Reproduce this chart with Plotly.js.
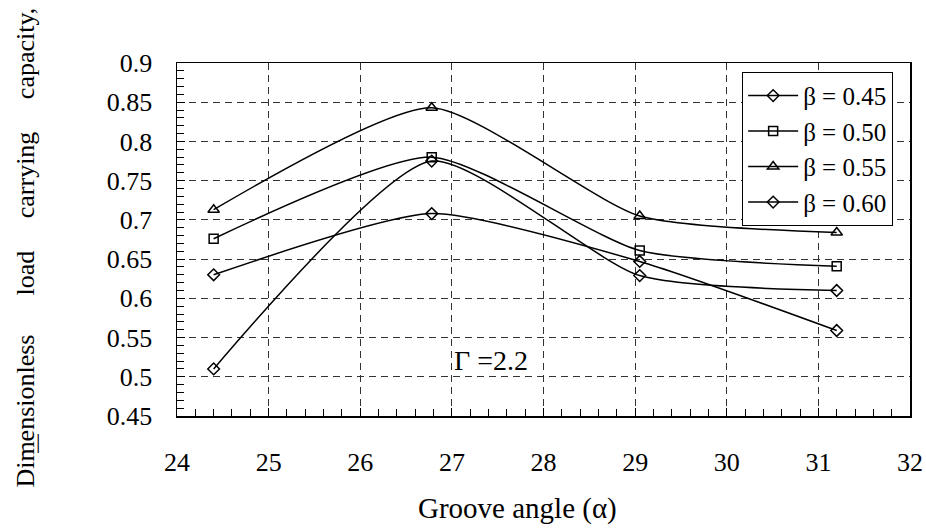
<!DOCTYPE html>
<html>
<head>
<meta charset="utf-8">
<script src="https://cdn.plot.ly/plotly-3.0.1.min.js"></script>
<style>html,body{margin:0;padding:0;background:#fff;}#chart{width:926px;height:528px;}</style>
</head>
<body>
<div id="chart"></div>
<script>
// Data
const grooveAngle = [24.4, 26.78, 29.05, 31.2];
const beta045 = [0.630, 0.708, 0.647, 0.559];
const beta050 = [0.676, 0.780, 0.661, 0.641];
const beta055 = [0.713, 0.843, 0.705, 0.684];
const beta060 = [0.510, 0.775, 0.629, 0.610];
const seriesNames = ["\u03b2 = 0.45", "\u03b2 = 0.50", "\u03b2 = 0.55", "\u03b2 = 0.60"];
const xTicks = [24, 25, 26, 27, 28, 29, 30, 31, 32];
const yTicks = [0.45, 0.5, 0.55, 0.6, 0.65, 0.7, 0.75, 0.8, 0.85, 0.9];
const yTickText = ["0.45", "0.5", "0.55", "0.6", "0.65", "0.7", "0.75", "0.8", "0.85", "0.9"];

const F1 = "Liberation Serif";
const symbols = ["diamond-open", "square-open", "triangle-up-open", "diamond-open"];
const sizes = [9, 9, 10, 9];
const allSeries = [beta045, beta050, beta055, beta060];

const traces = allSeries.map((ys, i) => ({
  x: grooveAngle,
  y: ys,
  name: seriesNames[i],
  type: "scatter",
  mode: "lines+markers",
  line: {color: "black", width: 1.5, shape: "spline", smoothing: 0.6},
  marker: {symbol: symbols[i], size: sizes[i], color: "black", line: {color: "black", width: 1.5}}
}));

const gridStyle = {gridcolor: "#333", gridwidth: 1, griddash: "7px,5px"};

const layout = {
  width: 926, height: 528,
  margin: {l: 177, r: 16, t: 63, b: 112},
  paper_bgcolor: "white", plot_bgcolor: "white",
  font: {family: F1, color: "black", size: 25},
  showlegend: true,
  legend: {
    x: 0.771, y: 0.975, xanchor: "left", yanchor: "top",
    bgcolor: "white", bordercolor: "black", borderwidth: 1,
    font: {family: F1, size: 25, color: "black"},
    itemwidth: 50,
    tracegroupgap: 0
  },
  xaxis: Object.assign({
    range: [24, 32], tickvals: xTicks, ticktext: xTicks.map(String),
    showline: true, linecolor: "black", linewidth: 1.5, mirror: true,
    ticks: "inside", ticklen: 8, tickcolor: "black", tickwidth: 1,
    ticklabelstandoff: 22,
    tickfont: {family: F1, size: 26, color: "black"},
    minor: {dtick: 0.2, ticks: "inside", ticklen: 7, tickcolor: "black", tickwidth: 1, showgrid: false},
    zeroline: false, showgrid: true
  }, gridStyle),
  yaxis: Object.assign({
    range: [0.45, 0.9], tickvals: yTicks, ticktext: yTickText,
    showline: true, linecolor: "black", linewidth: 1.5, mirror: true,
    ticks: "inside", ticklen: 8, tickcolor: "black", tickwidth: 1,
    ticklabelstandoff: 18,
    tickfont: {family: F1, size: 26, color: "black"},
    minor: {dtick: 0.01, ticks: "inside", ticklen: 7, tickcolor: "black", tickwidth: 1, showgrid: false},
    zeroline: false, showgrid: true
  }, gridStyle),
  annotations: [
    {text: "\u0393 =2.2", xref: "x", yref: "y", x: 27.0, y: 0.521, xanchor: "left", yanchor: "middle",
     showarrow: false, font: {family: F1, size: 28, color: "black"}},
    {text: "Groove angle (\u03b1)", xref: "paper", yref: "paper", x: 0.464, y: -0.261,
     xanchor: "center", yanchor: "middle", showarrow: false, font: {family: F1, size: 29, color: "black"}},
    {text: "Dimensionless\u00a0\u00a0\u00a0\u00a0\u00a0\u00a0load\u00a0\u00a0\u00a0\u00a0\u00a0carrying\u00a0\u00a0\u00a0\u00a0\u00a0capacity,",
     xref: "paper", yref: "paper", x: -0.206, y: 0.477, xanchor: "center", yanchor: "middle",
     textangle: -90, showarrow: false, font: {family: F1, size: 26, color: "black"}},
    {text: "|", xref: "paper", yref: "paper", x: -0.189, y: -0.068, xanchor: "center", yanchor: "middle",
     showarrow: false, font: {family: F1, size: 22, color: "black"}}
  ]
};

Plotly.newPlot("chart", traces, layout, {displayModeBar: false, staticPlot: true});
</script>
</body>
</html>
